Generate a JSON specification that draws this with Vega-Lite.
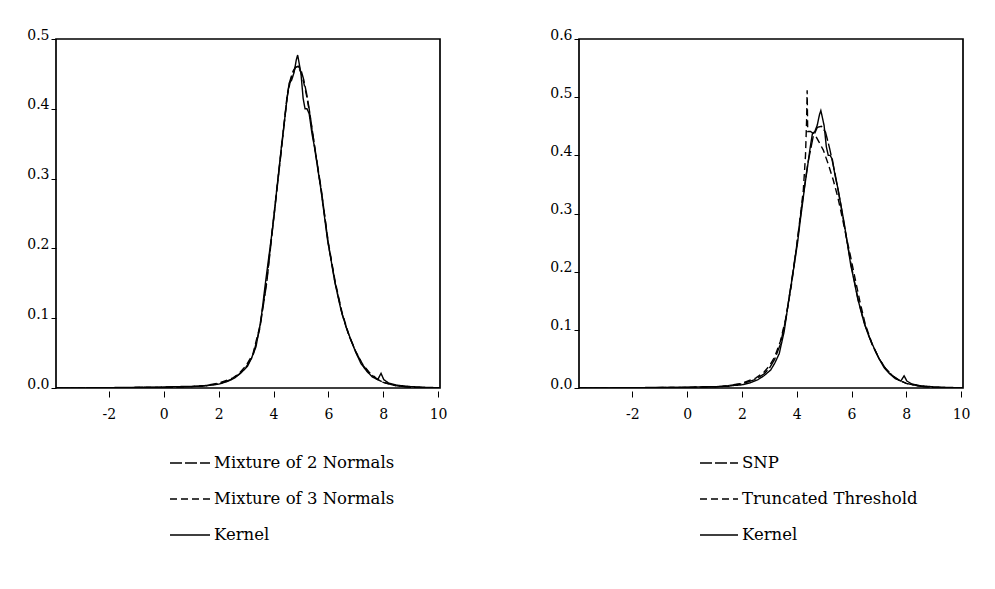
{
  "$schema": "https://vega.github.io/schema/vega-lite/v6.json",
  "padding": {"left": 25, "top": 27, "right": 5, "bottom": 5},
  "background": "white",
  "spacing": 100,
  "resolve": {"scale": {"strokeDash": "independent"}, "legend": {"strokeDash": "independent"}},
  "config": {
    "font": "DejaVu Serif",
    "view": {"stroke": "black", "strokeWidth": 1.7},
    "axis": {"grid": false, "domain": false, "labelColor": "black", "tickColor": "black", "labelFont": "DejaVu Serif", "labelFontSize": 14, "title": null},
    "legend": {"labelFont": "DejaVu Serif", "labelFontSize": 16.5, "labelColor": "black", "padding": 0, "labelLimit": 400, "symbolOpacity": 1}
  },
  "datasets": {
    "left": [
      {"x": -3.93, "y": 0, "s": "Kernel"}, {"x": -3, "y": 0.0002, "s": "Kernel"}, {"x": -2, "y": 0.0005, "s": "Kernel"}, {"x": -1, "y": 0.001, "s": "Kernel"}, {"x": 0, "y": 0.0012, "s": "Kernel"}, {"x": 0.5, "y": 0.002, "s": "Kernel"}, {"x": 1.0, "y": 0.0022, "s": "Kernel"}, {"x": 1.5, "y": 0.003, "s": "Kernel"}, {"x": 1.72, "y": 0.0045, "s": "Kernel"}, {"x": 1.85, "y": 0.0048, "s": "Kernel"}, {"x": 2.0, "y": 0.0055, "s": "Kernel"}, {"x": 2.3, "y": 0.009, "s": "Kernel"}, {"x": 2.57, "y": 0.014, "s": "Kernel"}, {"x": 2.8, "y": 0.021, "s": "Kernel"}, {"x": 3.05, "y": 0.031, "s": "Kernel"}, {"x": 3.2, "y": 0.043, "s": "Kernel"}, {"x": 3.36, "y": 0.059, "s": "Kernel"}, {"x": 3.54, "y": 0.097, "s": "Kernel"}, {"x": 3.72, "y": 0.155, "s": "Kernel"}, {"x": 3.91, "y": 0.212, "s": "Kernel"}, {"x": 4.03, "y": 0.25, "s": "Kernel"}, {"x": 4.12, "y": 0.285, "s": "Kernel"}, {"x": 4.21, "y": 0.317, "s": "Kernel"}, {"x": 4.3, "y": 0.35, "s": "Kernel"}, {"x": 4.39, "y": 0.379, "s": "Kernel"}, {"x": 4.48, "y": 0.41, "s": "Kernel"}, {"x": 4.57, "y": 0.437, "s": "Kernel"}, {"x": 4.66, "y": 0.441, "s": "Kernel"}, {"x": 4.75, "y": 0.452, "s": "Kernel"}, {"x": 4.83, "y": 0.47, "s": "Kernel"}, {"x": 4.88, "y": 0.477, "s": "Kernel"}, {"x": 4.95, "y": 0.462, "s": "Kernel"}, {"x": 5.0, "y": 0.451, "s": "Kernel"}, {"x": 5.08, "y": 0.415, "s": "Kernel"}, {"x": 5.15, "y": 0.4, "s": "Kernel"}, {"x": 5.22, "y": 0.4, "s": "Kernel"}, {"x": 5.3, "y": 0.393, "s": "Kernel"}, {"x": 5.4, "y": 0.365, "s": "Kernel"}, {"x": 5.49, "y": 0.346, "s": "Kernel"}, {"x": 5.61, "y": 0.315, "s": "Kernel"}, {"x": 5.73, "y": 0.284, "s": "Kernel"}, {"x": 5.85, "y": 0.248, "s": "Kernel"}, {"x": 5.97, "y": 0.212, "s": "Kernel"}, {"x": 6.1, "y": 0.183, "s": "Kernel"}, {"x": 6.22, "y": 0.155, "s": "Kernel"}, {"x": 6.34, "y": 0.133, "s": "Kernel"}, {"x": 6.46, "y": 0.112, "s": "Kernel"}, {"x": 6.64, "y": 0.088, "s": "Kernel"}, {"x": 6.82, "y": 0.069, "s": "Kernel"}, {"x": 7.0, "y": 0.051, "s": "Kernel"}, {"x": 7.19, "y": 0.035, "s": "Kernel"}, {"x": 7.4, "y": 0.024, "s": "Kernel"}, {"x": 7.6, "y": 0.016, "s": "Kernel"}, {"x": 7.8, "y": 0.012, "s": "Kernel"}, {"x": 7.92, "y": 0.021, "s": "Kernel"}, {"x": 8.02, "y": 0.012, "s": "Kernel"}, {"x": 8.2, "y": 0.007, "s": "Kernel"}, {"x": 8.5, "y": 0.004, "s": "Kernel"}, {"x": 9.0, "y": 0.002, "s": "Kernel"}, {"x": 9.5, "y": 0.001, "s": "Kernel"}, {"x": 10.07, "y": 0.0003, "s": "Kernel"},
      {"x": -3.93, "y": 0, "s": "Mixture of 2 Normals"}, {"x": -2, "y": 0.0002, "s": "Mixture of 2 Normals"}, {"x": 0, "y": 0.001, "s": "Mixture of 2 Normals"}, {"x": 1, "y": 0.002, "s": "Mixture of 2 Normals"}, {"x": 1.5, "y": 0.003, "s": "Mixture of 2 Normals"}, {"x": 2, "y": 0.006, "s": "Mixture of 2 Normals"}, {"x": 2.5, "y": 0.013, "s": "Mixture of 2 Normals"}, {"x": 2.75, "y": 0.02, "s": "Mixture of 2 Normals"}, {"x": 3.0, "y": 0.03, "s": "Mixture of 2 Normals"}, {"x": 3.25, "y": 0.046, "s": "Mixture of 2 Normals"}, {"x": 3.5, "y": 0.085, "s": "Mixture of 2 Normals"}, {"x": 3.75, "y": 0.15, "s": "Mixture of 2 Normals"}, {"x": 4.0, "y": 0.24, "s": "Mixture of 2 Normals"}, {"x": 4.25, "y": 0.328, "s": "Mixture of 2 Normals"}, {"x": 4.5, "y": 0.418, "s": "Mixture of 2 Normals"}, {"x": 4.6, "y": 0.437, "s": "Mixture of 2 Normals"}, {"x": 4.7, "y": 0.451, "s": "Mixture of 2 Normals"}, {"x": 4.8, "y": 0.459, "s": "Mixture of 2 Normals"}, {"x": 4.9, "y": 0.461, "s": "Mixture of 2 Normals"}, {"x": 5.0, "y": 0.456, "s": "Mixture of 2 Normals"}, {"x": 5.1, "y": 0.442, "s": "Mixture of 2 Normals"}, {"x": 5.2, "y": 0.423, "s": "Mixture of 2 Normals"}, {"x": 5.3, "y": 0.4, "s": "Mixture of 2 Normals"}, {"x": 5.4, "y": 0.373, "s": "Mixture of 2 Normals"}, {"x": 5.5, "y": 0.346, "s": "Mixture of 2 Normals"}, {"x": 5.75, "y": 0.282, "s": "Mixture of 2 Normals"}, {"x": 6.0, "y": 0.206, "s": "Mixture of 2 Normals"}, {"x": 6.25, "y": 0.15, "s": "Mixture of 2 Normals"}, {"x": 6.5, "y": 0.106, "s": "Mixture of 2 Normals"}, {"x": 6.75, "y": 0.075, "s": "Mixture of 2 Normals"}, {"x": 7.0, "y": 0.052, "s": "Mixture of 2 Normals"}, {"x": 7.25, "y": 0.033, "s": "Mixture of 2 Normals"}, {"x": 7.5, "y": 0.021, "s": "Mixture of 2 Normals"}, {"x": 7.75, "y": 0.013, "s": "Mixture of 2 Normals"}, {"x": 8.0, "y": 0.008, "s": "Mixture of 2 Normals"}, {"x": 8.5, "y": 0.003, "s": "Mixture of 2 Normals"}, {"x": 9, "y": 0.001, "s": "Mixture of 2 Normals"}, {"x": 10.07, "y": 0, "s": "Mixture of 2 Normals"},
      {"x": -3.93, "y": 0, "s": "Mixture of 3 Normals"}, {"x": -2, "y": 0.0002, "s": "Mixture of 3 Normals"}, {"x": 0, "y": 0.001, "s": "Mixture of 3 Normals"}, {"x": 1, "y": 0.002, "s": "Mixture of 3 Normals"}, {"x": 1.5, "y": 0.0035, "s": "Mixture of 3 Normals"}, {"x": 2, "y": 0.007, "s": "Mixture of 3 Normals"}, {"x": 2.5, "y": 0.014, "s": "Mixture of 3 Normals"}, {"x": 2.75, "y": 0.021, "s": "Mixture of 3 Normals"}, {"x": 3.0, "y": 0.032, "s": "Mixture of 3 Normals"}, {"x": 3.25, "y": 0.049, "s": "Mixture of 3 Normals"}, {"x": 3.5, "y": 0.088, "s": "Mixture of 3 Normals"}, {"x": 3.75, "y": 0.153, "s": "Mixture of 3 Normals"}, {"x": 4.0, "y": 0.243, "s": "Mixture of 3 Normals"}, {"x": 4.25, "y": 0.33, "s": "Mixture of 3 Normals"}, {"x": 4.5, "y": 0.42, "s": "Mixture of 3 Normals"}, {"x": 4.6, "y": 0.44, "s": "Mixture of 3 Normals"}, {"x": 4.7, "y": 0.453, "s": "Mixture of 3 Normals"}, {"x": 4.8, "y": 0.46, "s": "Mixture of 3 Normals"}, {"x": 4.9, "y": 0.46, "s": "Mixture of 3 Normals"}, {"x": 5.0, "y": 0.452, "s": "Mixture of 3 Normals"}, {"x": 5.1, "y": 0.438, "s": "Mixture of 3 Normals"}, {"x": 5.2, "y": 0.42, "s": "Mixture of 3 Normals"}, {"x": 5.3, "y": 0.398, "s": "Mixture of 3 Normals"}, {"x": 5.4, "y": 0.372, "s": "Mixture of 3 Normals"}, {"x": 5.5, "y": 0.345, "s": "Mixture of 3 Normals"}, {"x": 5.75, "y": 0.28, "s": "Mixture of 3 Normals"}, {"x": 6.0, "y": 0.208, "s": "Mixture of 3 Normals"}, {"x": 6.25, "y": 0.152, "s": "Mixture of 3 Normals"}, {"x": 6.5, "y": 0.108, "s": "Mixture of 3 Normals"}, {"x": 6.75, "y": 0.076, "s": "Mixture of 3 Normals"}, {"x": 7.0, "y": 0.052, "s": "Mixture of 3 Normals"}, {"x": 7.25, "y": 0.034, "s": "Mixture of 3 Normals"}, {"x": 7.5, "y": 0.022, "s": "Mixture of 3 Normals"}, {"x": 7.75, "y": 0.014, "s": "Mixture of 3 Normals"}, {"x": 8.0, "y": 0.008, "s": "Mixture of 3 Normals"}, {"x": 8.5, "y": 0.003, "s": "Mixture of 3 Normals"}, {"x": 9, "y": 0.001, "s": "Mixture of 3 Normals"}, {"x": 10.07, "y": 0, "s": "Mixture of 3 Normals"}
    ],
    "right": [
      {"x": -3.93, "y": 0, "s": "Kernel"}, {"x": -3, "y": 0.0002, "s": "Kernel"}, {"x": -2, "y": 0.0005, "s": "Kernel"}, {"x": -1, "y": 0.001, "s": "Kernel"}, {"x": 0, "y": 0.0012, "s": "Kernel"}, {"x": 0.5, "y": 0.002, "s": "Kernel"}, {"x": 1.0, "y": 0.0022, "s": "Kernel"}, {"x": 1.5, "y": 0.003, "s": "Kernel"}, {"x": 1.72, "y": 0.0045, "s": "Kernel"}, {"x": 1.85, "y": 0.0048, "s": "Kernel"}, {"x": 2.0, "y": 0.0055, "s": "Kernel"}, {"x": 2.3, "y": 0.009, "s": "Kernel"}, {"x": 2.57, "y": 0.014, "s": "Kernel"}, {"x": 2.8, "y": 0.021, "s": "Kernel"}, {"x": 3.05, "y": 0.031, "s": "Kernel"}, {"x": 3.2, "y": 0.043, "s": "Kernel"}, {"x": 3.36, "y": 0.059, "s": "Kernel"}, {"x": 3.54, "y": 0.097, "s": "Kernel"}, {"x": 3.72, "y": 0.155, "s": "Kernel"}, {"x": 3.91, "y": 0.212, "s": "Kernel"}, {"x": 4.03, "y": 0.25, "s": "Kernel"}, {"x": 4.12, "y": 0.285, "s": "Kernel"}, {"x": 4.21, "y": 0.317, "s": "Kernel"}, {"x": 4.3, "y": 0.35, "s": "Kernel"}, {"x": 4.39, "y": 0.379, "s": "Kernel"}, {"x": 4.48, "y": 0.41, "s": "Kernel"}, {"x": 4.57, "y": 0.437, "s": "Kernel"}, {"x": 4.66, "y": 0.441, "s": "Kernel"}, {"x": 4.75, "y": 0.452, "s": "Kernel"}, {"x": 4.83, "y": 0.47, "s": "Kernel"}, {"x": 4.88, "y": 0.477, "s": "Kernel"}, {"x": 4.95, "y": 0.462, "s": "Kernel"}, {"x": 5.0, "y": 0.451, "s": "Kernel"}, {"x": 5.08, "y": 0.415, "s": "Kernel"}, {"x": 5.15, "y": 0.4, "s": "Kernel"}, {"x": 5.22, "y": 0.4, "s": "Kernel"}, {"x": 5.3, "y": 0.393, "s": "Kernel"}, {"x": 5.4, "y": 0.365, "s": "Kernel"}, {"x": 5.49, "y": 0.346, "s": "Kernel"}, {"x": 5.61, "y": 0.315, "s": "Kernel"}, {"x": 5.73, "y": 0.284, "s": "Kernel"}, {"x": 5.85, "y": 0.248, "s": "Kernel"}, {"x": 5.97, "y": 0.212, "s": "Kernel"}, {"x": 6.1, "y": 0.183, "s": "Kernel"}, {"x": 6.22, "y": 0.155, "s": "Kernel"}, {"x": 6.34, "y": 0.133, "s": "Kernel"}, {"x": 6.46, "y": 0.112, "s": "Kernel"}, {"x": 6.64, "y": 0.088, "s": "Kernel"}, {"x": 6.82, "y": 0.069, "s": "Kernel"}, {"x": 7.0, "y": 0.051, "s": "Kernel"}, {"x": 7.19, "y": 0.035, "s": "Kernel"}, {"x": 7.4, "y": 0.024, "s": "Kernel"}, {"x": 7.6, "y": 0.016, "s": "Kernel"}, {"x": 7.8, "y": 0.012, "s": "Kernel"}, {"x": 7.92, "y": 0.021, "s": "Kernel"}, {"x": 8.02, "y": 0.012, "s": "Kernel"}, {"x": 8.2, "y": 0.007, "s": "Kernel"}, {"x": 8.5, "y": 0.004, "s": "Kernel"}, {"x": 9.0, "y": 0.002, "s": "Kernel"}, {"x": 9.5, "y": 0.001, "s": "Kernel"}, {"x": 10.07, "y": 0.0003, "s": "Kernel"},
      {"x": -3.93, "y": 0, "s": "SNP"}, {"x": 0, "y": 0.001, "s": "SNP"}, {"x": 1, "y": 0.002, "s": "SNP"}, {"x": 1.5, "y": 0.004, "s": "SNP"}, {"x": 2, "y": 0.007, "s": "SNP"}, {"x": 2.5, "y": 0.015, "s": "SNP"}, {"x": 2.8, "y": 0.024, "s": "SNP"}, {"x": 3.0, "y": 0.034, "s": "SNP"}, {"x": 3.2, "y": 0.05, "s": "SNP"}, {"x": 3.4, "y": 0.075, "s": "SNP"}, {"x": 3.6, "y": 0.118, "s": "SNP"}, {"x": 3.8, "y": 0.18, "s": "SNP"}, {"x": 4.0, "y": 0.245, "s": "SNP"}, {"x": 4.2, "y": 0.318, "s": "SNP"}, {"x": 4.4, "y": 0.385, "s": "SNP"}, {"x": 4.6, "y": 0.432, "s": "SNP"}, {"x": 4.75, "y": 0.448, "s": "SNP"}, {"x": 4.9, "y": 0.45, "s": "SNP"}, {"x": 5.05, "y": 0.44, "s": "SNP"}, {"x": 5.2, "y": 0.412, "s": "SNP"}, {"x": 5.4, "y": 0.368, "s": "SNP"}, {"x": 5.6, "y": 0.318, "s": "SNP"}, {"x": 5.8, "y": 0.262, "s": "SNP"}, {"x": 6.0, "y": 0.208, "s": "SNP"}, {"x": 6.25, "y": 0.15, "s": "SNP"}, {"x": 6.5, "y": 0.107, "s": "SNP"}, {"x": 6.75, "y": 0.075, "s": "SNP"}, {"x": 7.0, "y": 0.051, "s": "SNP"}, {"x": 7.25, "y": 0.033, "s": "SNP"}, {"x": 7.5, "y": 0.021, "s": "SNP"}, {"x": 7.75, "y": 0.013, "s": "SNP"}, {"x": 8.0, "y": 0.008, "s": "SNP"}, {"x": 8.5, "y": 0.003, "s": "SNP"}, {"x": 9, "y": 0.001, "s": "SNP"}, {"x": 10.07, "y": 0, "s": "SNP"},
      {"x": -3.93, "y": 0, "s": "Truncated Threshold"}, {"x": 0, "y": 0.001, "s": "Truncated Threshold"}, {"x": 1, "y": 0.002, "s": "Truncated Threshold"}, {"x": 1.5, "y": 0.004, "s": "Truncated Threshold"}, {"x": 2.0, "y": 0.008, "s": "Truncated Threshold"}, {"x": 2.5, "y": 0.017, "s": "Truncated Threshold"}, {"x": 2.8, "y": 0.027, "s": "Truncated Threshold"}, {"x": 3.0, "y": 0.038, "s": "Truncated Threshold"}, {"x": 3.2, "y": 0.054, "s": "Truncated Threshold"}, {"x": 3.4, "y": 0.08, "s": "Truncated Threshold"}, {"x": 3.6, "y": 0.12, "s": "Truncated Threshold"}, {"x": 3.8, "y": 0.175, "s": "Truncated Threshold"}, {"x": 4.0, "y": 0.245, "s": "Truncated Threshold"}, {"x": 4.14, "y": 0.3, "s": "Truncated Threshold"}, {"x": 4.24, "y": 0.34, "s": "Truncated Threshold"}, {"x": 4.32, "y": 0.4, "s": "Truncated Threshold"}, {"x": 4.36, "y": 0.46, "s": "Truncated Threshold"}, {"x": 4.38, "y": 0.512, "s": "Truncated Threshold"}, {"x": 4.4, "y": 0.441, "s": "Truncated Threshold"}, {"x": 4.5, "y": 0.441, "s": "Truncated Threshold"}, {"x": 4.66, "y": 0.436, "s": "Truncated Threshold"}, {"x": 4.8, "y": 0.424, "s": "Truncated Threshold"}, {"x": 4.97, "y": 0.409, "s": "Truncated Threshold"}, {"x": 5.15, "y": 0.385, "s": "Truncated Threshold"}, {"x": 5.33, "y": 0.358, "s": "Truncated Threshold"}, {"x": 5.5, "y": 0.328, "s": "Truncated Threshold"}, {"x": 5.63, "y": 0.3, "s": "Truncated Threshold"}, {"x": 5.8, "y": 0.262, "s": "Truncated Threshold"}, {"x": 5.94, "y": 0.232, "s": "Truncated Threshold"}, {"x": 6.1, "y": 0.195, "s": "Truncated Threshold"}, {"x": 6.3, "y": 0.15, "s": "Truncated Threshold"}, {"x": 6.5, "y": 0.11, "s": "Truncated Threshold"}, {"x": 6.75, "y": 0.076, "s": "Truncated Threshold"}, {"x": 7.0, "y": 0.051, "s": "Truncated Threshold"}, {"x": 7.25, "y": 0.033, "s": "Truncated Threshold"}, {"x": 7.5, "y": 0.021, "s": "Truncated Threshold"}, {"x": 7.75, "y": 0.013, "s": "Truncated Threshold"}, {"x": 8.0, "y": 0.008, "s": "Truncated Threshold"}, {"x": 8.5, "y": 0.003, "s": "Truncated Threshold"}, {"x": 9, "y": 0.001, "s": "Truncated Threshold"}, {"x": 10.07, "y": 0, "s": "Truncated Threshold"}
    ]
  },
  "hconcat": [
    {
      "width": 384,
      "height": 349,
      "data": {"name": "left"},
      "mark": {"type": "line", "color": "black", "strokeWidth": 1.4, "clip": true},
      "encoding": {
        "x": {"field": "x", "type": "quantitative", "scale": {"domain": [-3.93, 10.07], "nice": false, "zero": false}, "axis": {"values": [-2, 0, 2, 4, 6, 8, 10], "offset": 3, "tickSize": 6, "labelPadding": 10, "format": "d", "labelExpr": "replace(datum.label, '−', '-')"}},
        "y": {"field": "y", "type": "quantitative", "scale": {"domain": [0, 0.5], "nice": false}, "axis": {"values": [0, 0.1, 0.2, 0.3, 0.4, 0.5], "format": ".1f", "tickSize": 5, "labelPadding": 2, "labelBaseline": "alphabetic", "labelAlign": "right"}},
        "strokeDash": {"field": "s", "type": "nominal", "sort": null,
          "scale": {"domain": ["Mixture of 2 Normals", "Mixture of 3 Normals", "Kernel"], "range": [[12, 3], [7, 4], [1, 0]]},
          "legend": {"title": null, "orient": "none", "legendX": 113, "legendY": 403, "symbolType": "stroke", "symbolSize": 1600, "symbolStrokeWidth": 1.3, "symbolStrokeColor": "black", "rowPadding": 6, "labelOffset": 3}}
      }
    },
    {
      "width": 384,
      "height": 349,
      "data": {"name": "right"},
      "mark": {"type": "line", "color": "black", "strokeWidth": 1.4, "clip": true},
      "encoding": {
        "x": {"field": "x", "type": "quantitative", "scale": {"domain": [-3.95, 10.07], "nice": false, "zero": false}, "axis": {"values": [-2, 0, 2, 4, 6, 8, 10], "offset": 3, "tickSize": 6, "labelPadding": 10, "format": "d", "labelExpr": "replace(datum.label, '−', '-')"}},
        "y": {"field": "y", "type": "quantitative", "scale": {"domain": [0, 0.6], "nice": false}, "axis": {"values": [0, 0.1, 0.2, 0.3, 0.4, 0.5, 0.6], "format": ".1f", "tickSize": 5, "labelPadding": 2, "labelBaseline": "alphabetic", "labelAlign": "right"}},
        "strokeDash": {"field": "s", "type": "nominal", "sort": null,
          "scale": {"domain": ["SNP", "Truncated Threshold", "Kernel"], "range": [[12, 3], [7, 4], [1, 0]]},
          "legend": {"title": null, "orient": "none", "legendX": 120, "legendY": 404, "symbolType": "stroke", "symbolSize": 1444, "symbolStrokeWidth": 1.3, "symbolStrokeColor": "black", "rowPadding": 7, "labelOffset": 3}}
      }
    }
  ]
}
